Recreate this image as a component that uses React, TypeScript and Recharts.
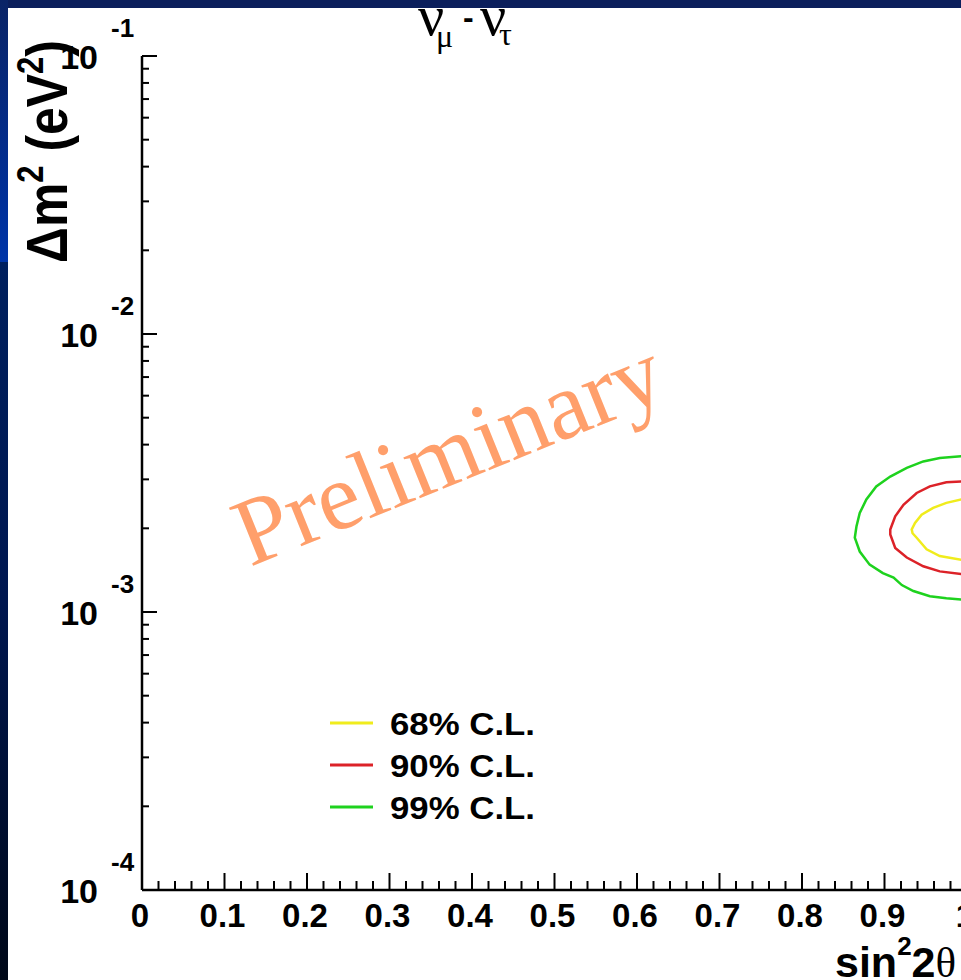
import React from "react";
import { ScatterChart, Scatter, XAxis, YAxis, Legend } from "recharts";

// contour points: [sin^2 2theta, dm^2 (eV^2)]
const cl68 = [
  [1.0, 0.00254], [0.993, 0.00254], [0.975, 0.00247], [0.959, 0.00237],
  [0.945, 0.00224], [0.937, 0.00209], [0.933, 0.00198], [0.934, 0.00192],
  [0.939, 0.00185], [0.951, 0.00168], [0.967, 0.00159], [0.993, 0.00154],
  [1.0, 0.00154],
];
const cl90 = [
  [1.0, 0.00296], [0.993, 0.00295], [0.975, 0.00293], [0.955, 0.00283],
  [0.939, 0.00268], [0.923, 0.00243], [0.913, 0.00221], [0.907, 0.00198],
  [0.907, 0.0019], [0.913, 0.0017], [0.927, 0.00157], [0.947, 0.00146],
  [0.967, 0.0014], [0.993, 0.00137], [1.0, 0.00137],
];
const cl99 = [
  [1.0, 0.00365], [0.993, 0.00363], [0.967, 0.00358], [0.947, 0.00348],
  [0.927, 0.0033], [0.907, 0.00307], [0.89, 0.00283], [0.878, 0.00254],
  [0.87, 0.00227], [0.866, 0.00203], [0.864, 0.00185], [0.87, 0.00165],
  [0.882, 0.00148], [0.898, 0.00138], [0.911, 0.00133], [0.921, 0.00125],
  [0.935, 0.00119], [0.955, 0.00114], [0.975, 0.00112], [0.993, 0.00111],
  [1.0, 0.0011],
];

const series = [
  { name: "68% C.L.", color: "#f0ec1c", points: cl68 },
  { name: "90% C.L.", color: "#dc2228", points: cl90 },
  { name: "99% C.L.", color: "#1ed21e", points: cl99 },
];

const xMajor = [0, 0.1, 0.2, 0.3, 0.4, 0.5, 0.6, 0.7, 0.8, 0.9, 1.0];
const yDecades = [-4, -3, -2, -1];

// minor ticks every 0.02 and 2..9 per decade
const xTicks: number[] = [];
xMajor.forEach((v, i) => {
  xTicks.push(v);
  if (i < xMajor.length - 1) for (let k = 1; k < 5; k++) xTicks.push(+(v + k * 0.02).toFixed(2));
});
const yTicks: number[] = [];
yDecades.forEach((d, i) => {
  const base = Math.pow(10, d);
  yTicks.push(base);
  if (i < yDecades.length - 1) for (let m = 2; m <= 9; m++) yTicks.push(m * base);
});

const SANS = "'Liberation Sans', Arial, Helvetica, sans-serif";
const SERIF = "'Liberation Serif', 'Times New Roman', serif";

const isMajorX = (v: number) => Math.abs(v * 10 - Math.round(v * 10)) < 1e-6;
const isMajorY = (v: number) => {
  const e = Math.round(Math.log10(v));
  return Math.abs(v / Math.pow(10, e) - 1) < 1e-6;
};

const BottomTick = ({ x, y, payload }: any) => {
  const v = payload.value;
  const major = isMajorX(v);
  return (
    <g>
      <line x1={x} x2={x} y1={y} y2={y - (major ? 17 : 9)} stroke="#000" strokeWidth={2} />
      {major && (
        <text x={x - 2} y={y + 37} textAnchor="middle" fontFamily={SANS} fontWeight="bold" fontSize={33} fill="#000">
          {String(Math.round(v * 10) / 10)}
        </text>
      )}
    </g>
  );
};

const TopTick = ({ x, y, payload }: any) => (
  <line x1={x} x2={x} y1={y} y2={y + (isMajorX(payload.value) ? 16 : 8)} stroke="#000" strokeWidth={2} />
);

const LeftTick = ({ x, y, payload }: any) => {
  const v = payload.value;
  const major = isMajorY(v);
  return (
    <g>
      <line x1={x} x2={x + (major ? 15 : 7)} y1={y} y2={y} stroke="#000" strokeWidth={2} />
      {major && (
        <g fontFamily={SANS} fontWeight="bold" fill="#000">
          <text x={x - 44} y={y + 13} textAnchor="end" fontSize={34}>10</text>
          <text x={x - 31} y={y - 19} fontSize={26}>{String(Math.round(Math.log10(v)))}</text>
        </g>
      )}
    </g>
  );
};

const RightTick = ({ x, y, payload }: any) => (
  <line x1={x} x2={x - (isMajorY(payload.value) ? 15 : 7)} y1={y} y2={y} stroke="#000" strokeWidth={2} />
);

const noDot = () => <g />;

const renderLegend = () => (
  <svg width={240} height={140}>
    {series.map((s, i) => (
      <g key={s.name}>
        <line x1={10} x2={53} y1={33 + i * 42} y2={33 + i * 42} stroke={s.color} strokeWidth={3} />
        <text x={70} y={45 + i * 42} fontFamily={SANS} fontWeight="bold" fontSize={32} fill="#000"
          textLength={145} lengthAdjust="spacingAndGlyphs">
          {s.name}
        </text>
      </g>
    ))}
  </svg>
);

export default function App() {
  return (
    <div style={{ position: "fixed", left: 0, top: 0, width: 961, height: 980, overflow: "hidden", background: "#001f5f" }}>
      <div style={{ position: "absolute", left: 8, top: 8, width: 953, height: 972, background: "#fff" }} />
      <div style={{ position: "absolute", left: 0, top: 0 }}>
        <ScatterChart width={1000} height={980} margin={{ top: 56, right: 33, bottom: 0, left: 0 }}>
          <XAxis xAxisId="b" type="number" dataKey="x" domain={[0, 1]} ticks={xTicks} interval={0}
            height={90} tickSize={0} tickMargin={0} tickLine={false} allowDataOverflow
            axisLine={{ stroke: "#000", strokeWidth: 2.5 }} tick={<BottomTick />} />
          <XAxis xAxisId="t" orientation="top" type="number" domain={[0, 1]} ticks={xTicks} interval={0}
            height={0} tickSize={0} tickMargin={0} tickLine={false} allowDataOverflow
            axisLine={{ stroke: "#000", strokeWidth: 2.5 }} tick={<TopTick />} />
          <YAxis yAxisId="l" type="number" dataKey="y" scale="log" domain={[1e-4, 1e-1]} ticks={yTicks}
            interval={0} width={142} tickSize={0} tickMargin={0} tickLine={false} allowDataOverflow
            axisLine={{ stroke: "#000", strokeWidth: 2.5 }} tick={<LeftTick />} />
          <YAxis yAxisId="r" orientation="right" type="number" scale="log" domain={[1e-4, 1e-1]} ticks={yTicks}
            interval={0} width={0} tickSize={0} tickMargin={0} tickLine={false} allowDataOverflow
            axisLine={{ stroke: "#000", strokeWidth: 2.5 }} tick={<RightTick />} />
          {series.map((s) => (
            <Scatter key={s.name} name={s.name} xAxisId="b" yAxisId="l"
              data={s.points.map(([x, y]) => ({ x, y }))}
              line={{ stroke: s.color, strokeWidth: 2.5 }} lineType="joint" shape={noDot}
              fill={s.color} isAnimationActive={false} />
          ))}
          <Legend layout="vertical" align="center" verticalAlign="middle" content={renderLegend}
            wrapperStyle={{ left: 320, top: 690, width: 240, height: 140 }} />

          <text x={460} y={482} textAnchor="middle" transform="rotate(-22 460 482)"
            fontFamily={SERIF} fontSize={96} fill="#ff9f6b">Preliminary</text>

          <g fontFamily={SERIF} fill="#000">
            <text x={418} y={35} fontSize={58}>ν</text>
            <text x={436} y={47} fontSize={32}>μ</text>
            <text x={480} y={35} fontSize={58}>ν</text>
            <text x={499} y={45} fontSize={32}>τ</text>
          </g>
          <text x={463} y={28} fontFamily={SANS} fontWeight="bold" fontSize={32} fill="#000">-</text>

          <text x={835} y={977} fontFamily={SANS} fontWeight="bold" fontSize={43} fill="#000">
            sin<tspan dy={-22} fontSize={26}>2</tspan><tspan dy={22}>2</tspan>
            <tspan fontFamily={SERIF} fontWeight="normal">θ</tspan>
          </text>

          <text x={67} y={263} transform="rotate(-90 67 263)" fontFamily={SANS} fontWeight="bold" fontSize={58}
            fill="#000" textLength={223} lengthAdjust="spacingAndGlyphs">
            Δm<tspan dy={-24} fontSize={36}>2</tspan><tspan dy={24}> (eV</tspan>
            <tspan dy={-24} fontSize={36}>2</tspan><tspan dy={24}>)</tspan>
          </text>
        </ScatterChart>
      </div>
      <div style={{ position: "absolute", left: 0, top: 0, width: 961, height: 8, background: "#0b1f5c" }} />
      <div style={{
        position: "absolute", left: 0, top: 0, width: 8, height: 980,
        background: "linear-gradient(to bottom, #0a2466 0px, #002f98 200px, #0035a8 262px, #00205e 262px, #001750 600px, #000818 980px)",
      }} />
    </div>
  );
}
